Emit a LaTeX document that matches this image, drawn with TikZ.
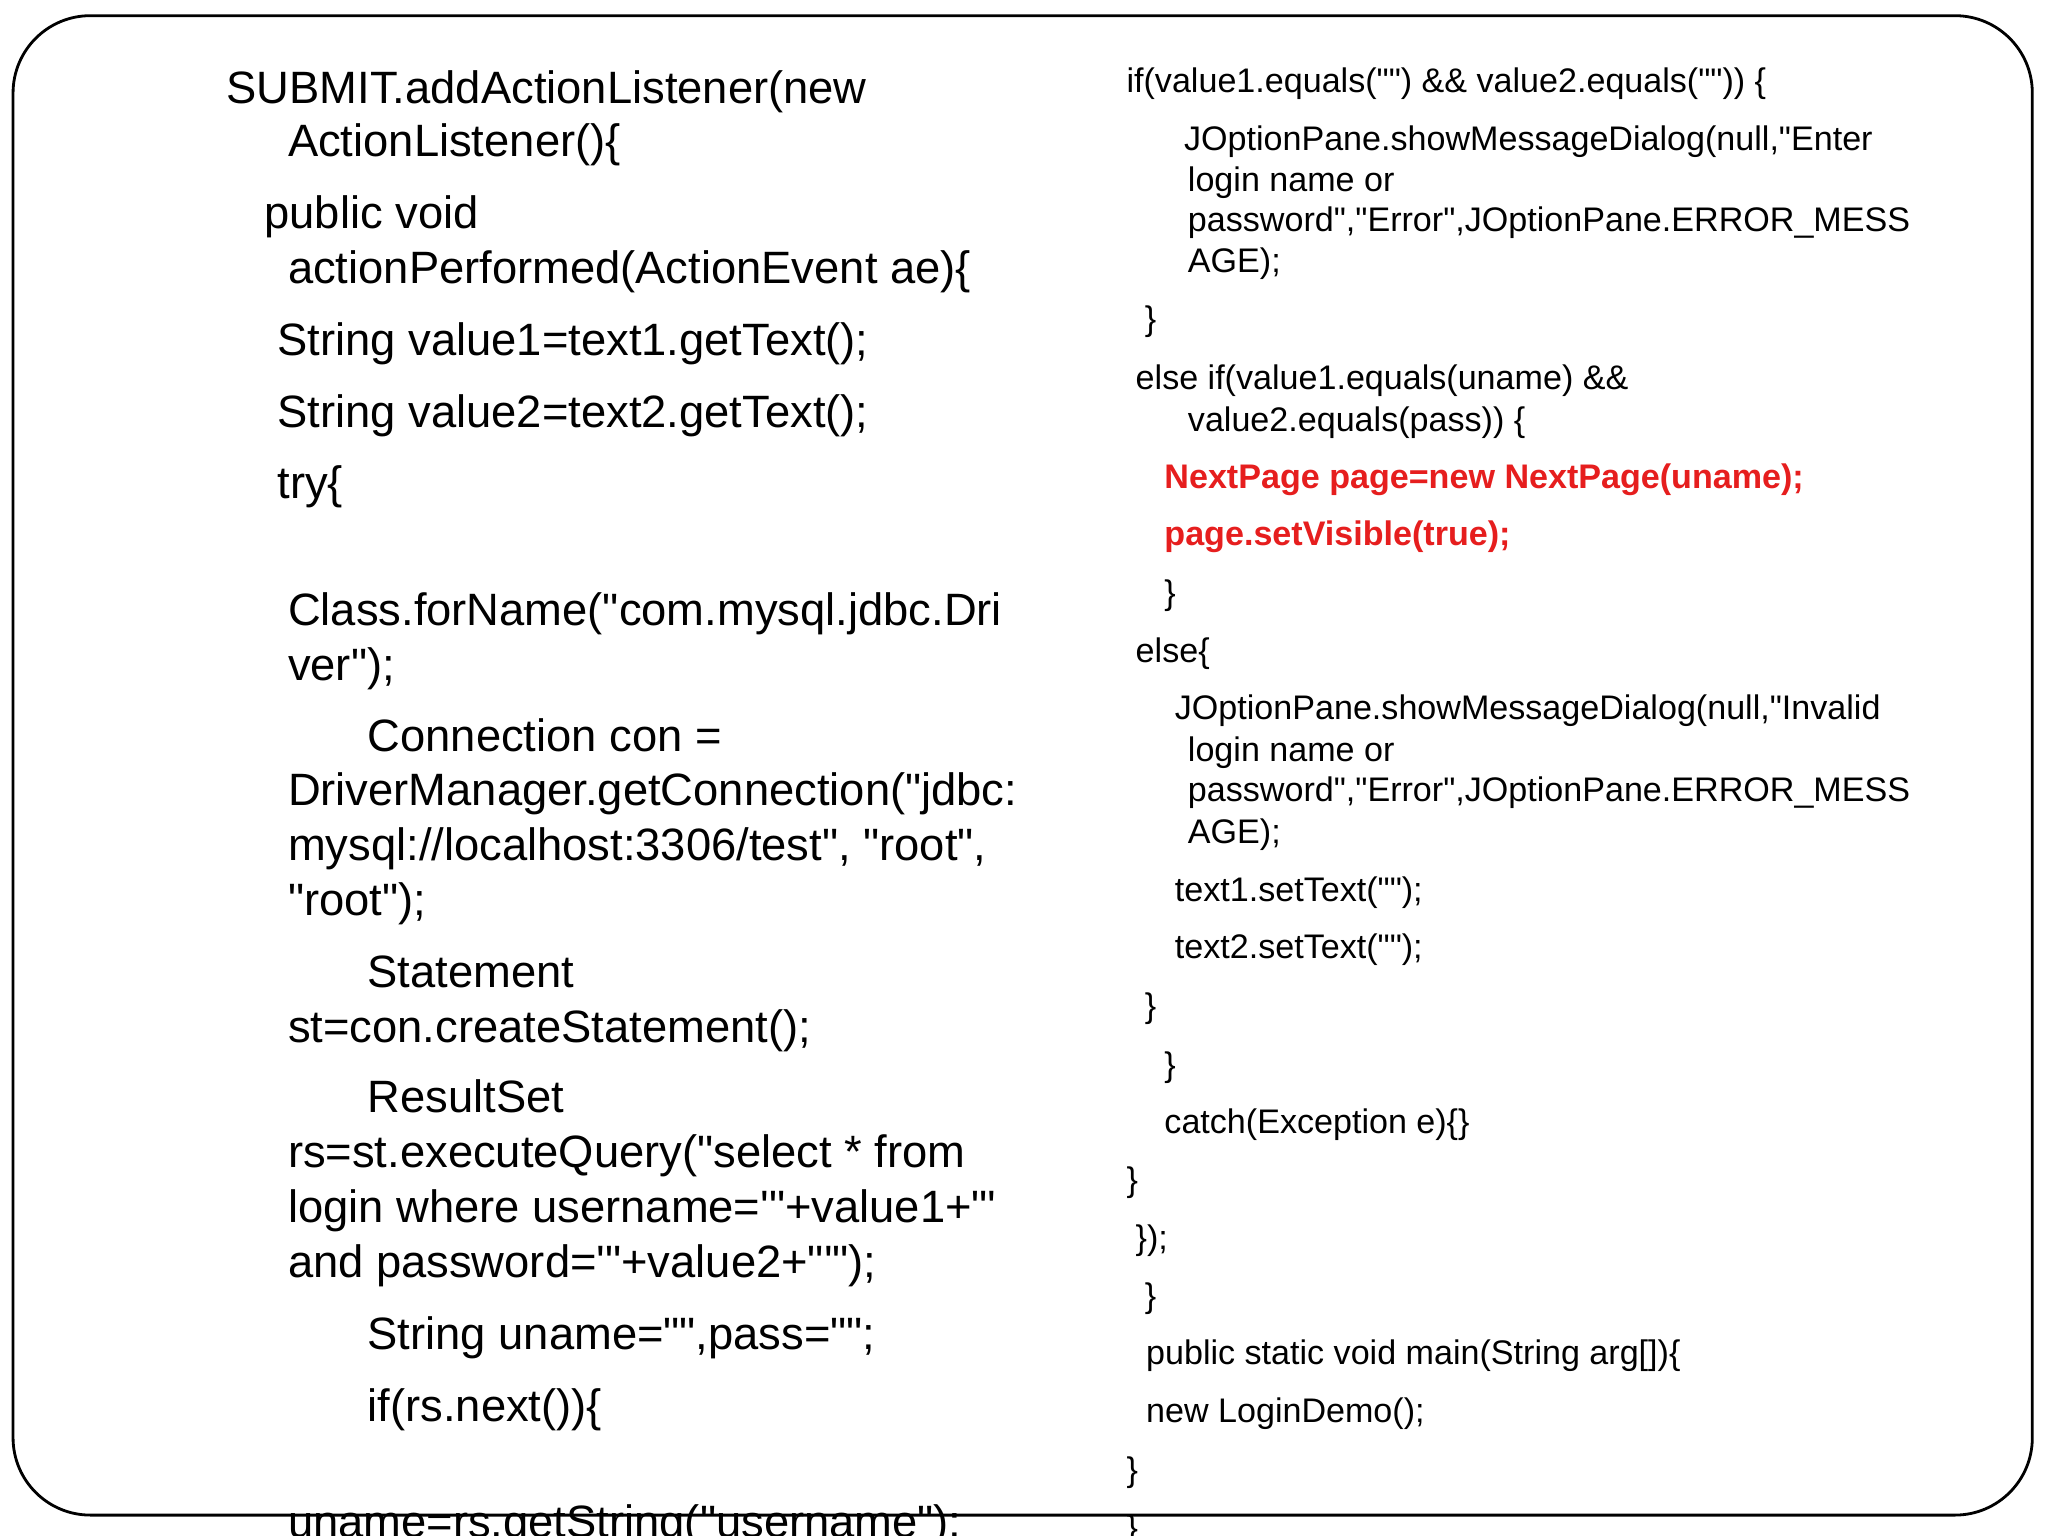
\documentclass[tikz,border=0pt]{standalone}
\usepackage{fontspec}
\newfontfamily\codef{Liberation Sans}
\definecolor{codered}{RGB}{230,30,30}
\begin{document}
\begin{tikzpicture}[x=0.01306cm,y=-0.01306cm,
  big/.style={anchor=base west,inner sep=0pt,font=\codef\fontsize{12.9}{15}\selectfont},
  sm/.style={anchor=base west,inner sep=0pt,font=\codef\fontsize{9.7}{12}\selectfont},
  red/.style={sm,text=codered,font=\codef\bfseries\fontsize{9.7}{12}\selectfont}]
\useasboundingbox (0,0) rectangle (1568,1176);
\clip (0,0) rectangle (1568,1176);
\fill[white] (0,0) rectangle (1568,1176);
\draw[line width=0.8pt,rounded corners=22pt] (10,12) rectangle (1556,1160);
% left column
\node[big] (l1) at (173,79) {SUBMIT.addActionListener(new};
\node[big] (l2) at (220,120) {ActionListener()\{};
\node[big] (l3) at (202,175) {public void};
\node[big] (l4) at (220,217) {actionPerformed(ActionEvent ae)\{};
\node[big] (l5) at (212,272) {String value1=text1.getText();};
\node[big] (l6) at (212,327) {String value2=text2.getText();};
\node[big] (l7) at (212,382) {try\{};
\node[big] (l8) at (220,479) {Class.forName("com.mysql.jdbc.Dri};
\node[big] (l9) at (220,521) {ver");};
\node[big] (l10) at (281,575) {Connection con =};
\node[big] (l11) at (220,617) {DriverManager.getConnection("jdbc:};
\node[big] (l12) at (220,659) {mysql://localhost:3306/test", "root",};
\node[big] (l13) at (220,701) {"root");};
\node[big] (l14) at (281,756) {Statement};
\node[big] (l15) at (220,798) {st=con.createStatement();};
\node[big] (l16) at (281,852) {ResultSet};
\node[big] (l17) at (220,894) {rs=st.executeQuery("select * from};
\node[big] (l18) at (220,936) {login where username='"+value1+"'};
\node[big] (l19) at (220,978) {and password='"+value2+"'");};
\node[big] (l20) at (281,1033) {String uname="",pass="";};
\node[big] (l21) at (281,1088) {if(rs.next())\{};
\node[big] (l22) at (220,1177) {uname=rs.getString("username");};
% right column
\node[sm] (r1) at (862,71) {if(value1.equals("") \&\& value2.equals("")) \{};
\node[sm] (r2) at (906,115) {JOptionPane.showMessageDialog(null,"Enter};
\node[sm] (r3) at (909,147) {login name or};
\node[sm] (r4) at (909,177) {password","Error",JOptionPane.ERROR\_MESS};
\node[sm] (r5) at (909,209) {AGE);};
\node[sm] (r6) at (876,253) {\}};
\node[sm] (r7) at (869,298) {else if(value1.equals(uname) \&\&};
\node[sm] (r8) at (909,330) {value2.equals(pass)) \{};
\node[red] (r9) at (891,374) {NextPage page=new NextPage(uname);};
\node[red] (r10) at (891,418) {page.setVisible(true);};
\node[sm] (r11) at (891,463) {\}};
\node[sm] (r12) at (869,507) {else\{};
\node[sm] (r13) at (899,551) {JOptionPane.showMessageDialog(null,"Invalid};
\node[sm] (r14) at (909,583) {login name or};
\node[sm] (r15) at (909,614) {password","Error",JOptionPane.ERROR\_MESS};
\node[sm] (r16) at (909,646) {AGE);};
\node[sm] (r17) at (899,690) {text1.setText("");};
\node[sm] (r18) at (899,734) {text2.setText("");};
\node[sm] (r19) at (876,779) {\}};
\node[sm] (r20) at (891,824) {\}};
\node[sm] (r21) at (891,868) {catch(Exception e)\{\}};
\node[sm] (r22) at (862,912) {\}};
\node[sm] (r23) at (869,957) {\});};
\node[sm] (r24) at (876,1001) {\}};
\node[sm] (r25) at (877,1045) {public static void main(String arg[])\{};
\node[sm] (r26) at (877,1089) {new LoginDemo();};
\node[sm] (r27) at (862,1134) {\}};
\node[sm] (r28) at (862,1179) {\}};
\end{tikzpicture}
\end{document}
